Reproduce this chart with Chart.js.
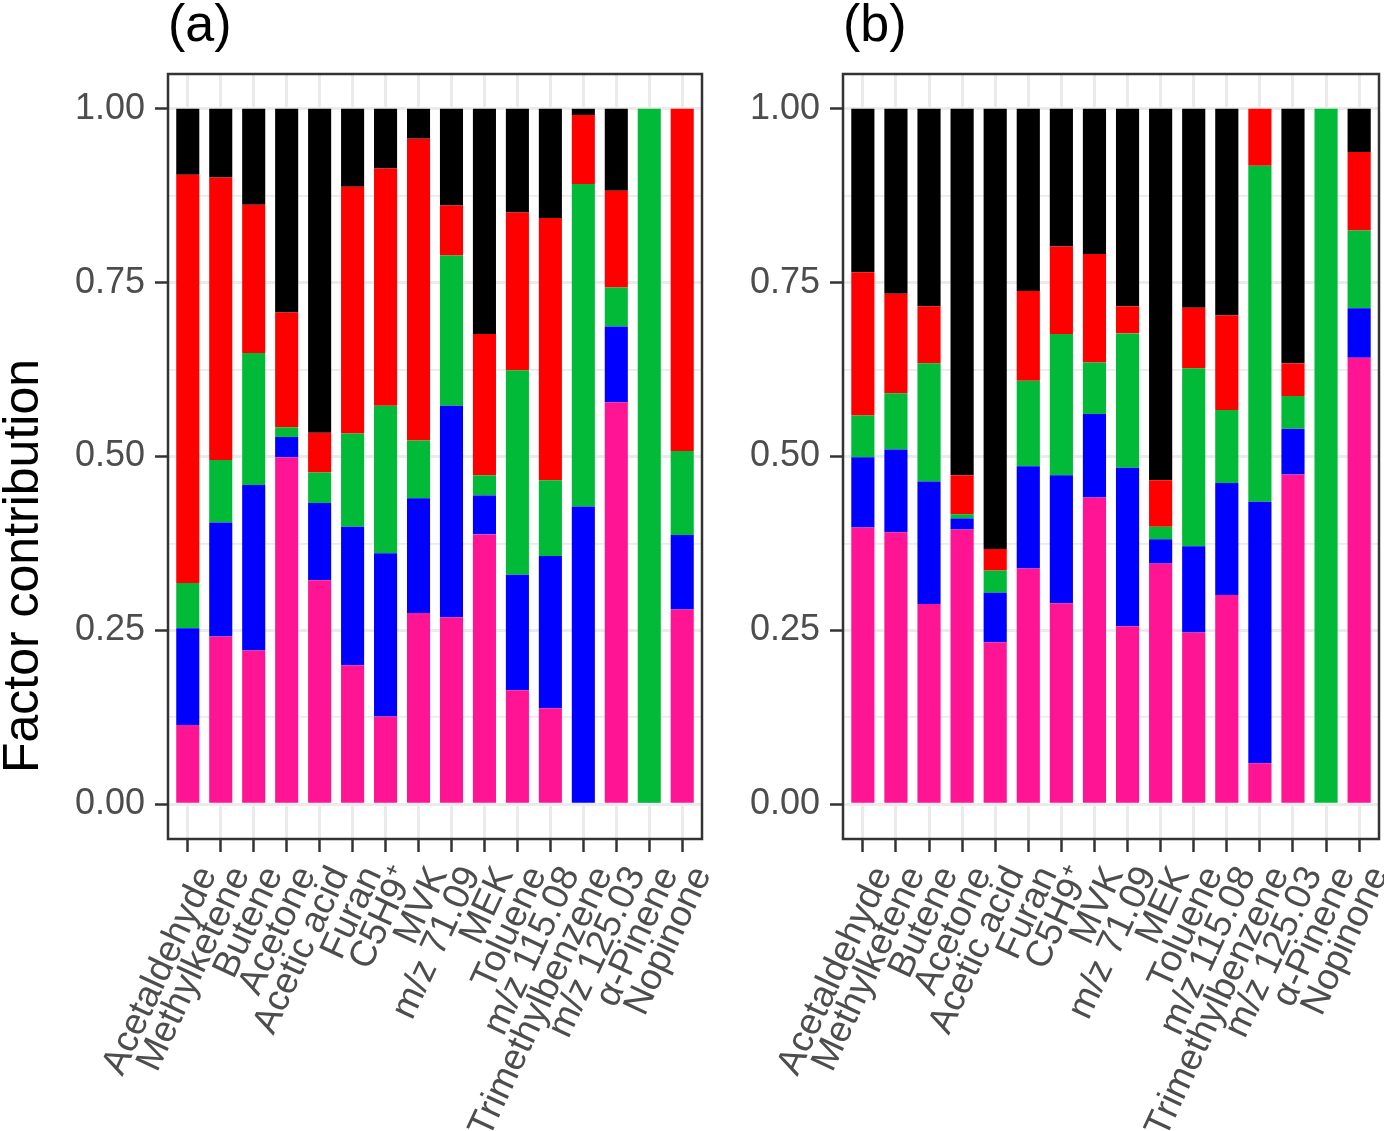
<!DOCTYPE html>
<html>
<head>
<meta charset="utf-8">
<script src="https://cdn.jsdelivr.net/npm/chart.js@4.4.0/dist/chart.umd.min.js"></script>
<style>
  html, body { margin: 0; padding: 0; background: #fff; overflow: hidden; }
  #wrap { position: relative; width: 1384px; height: 1131px; }
  canvas { position: absolute; top: 0; }
</style>
</head>
<body>
<div id="wrap">
  <canvas id="chartA" width="725" height="1131" style="left:0"></canvas>
  <canvas id="chartB" width="659" height="1131" style="left:725px"></canvas>
</div>
<script>
const categories = ['Acetaldehyde', 'Methylketene', 'Butene', 'Acetone', 'Acetic acid', 'Furan',
  'C5H9\u207A', 'MVK', 'm/z 71.09', 'MEK', 'Toluene', 'm/z 115.08', 'Trimethylbenzene',
  'm/z 125.03', '\u03B1-Pinene', 'Nopinone'];
const yTickValues = [0, 0.125, 0.25, 0.375, 0.5, 0.625, 0.75, 0.875, 1];

// panel (a), factors from bottom to top
const aF1 = [0.114, 0.241, 0.221, 0.499, 0.322, 0.200, 0.126, 0.275, 0.269, 0.388, 0.164, 0.138, 0, 0.578, 0, 0.280];
const aF2 = [0.139, 0.164, 0.238, 0.029, 0.111, 0.199, 0.235, 0.165, 0.304, 0.056, 0.166, 0.219, 0.428, 0.109, 0.002, 0.107];
const aF3 = [0.065, 0.090, 0.190, 0.014, 0.044, 0.134, 0.212, 0.083, 0.216, 0.029, 0.294, 0.109, 0.464, 0.056, 0.998, 0.121];
const aF4 = [0.587, 0.406, 0.213, 0.165, 0.057, 0.355, 0.341, 0.434, 0.072, 0.203, 0.227, 0.377, 0.099, 0.139, 0, 0.492];
const aF5 = [0.095, 0.099, 0.138, 0.293, 0.466, 0.112, 0.086, 0.043, 0.139, 0.324, 0.149, 0.157, 0.009, 0.118, 0, 0];

// panel (b)
const bF1 = [0.398, 0.391, 0.288, 0.395, 0.233, 0.339, 0.289, 0.441, 0.256, 0.346, 0.247, 0.301, 0.059, 0.474, 0, 0.642];
const bF2 = [0.101, 0.119, 0.176, 0.016, 0.071, 0.147, 0.184, 0.120, 0.228, 0.035, 0.124, 0.161, 0.376, 0.066, 0, 0.071];
const bF3 = [0.060, 0.081, 0.170, 0.006, 0.032, 0.123, 0.203, 0.074, 0.193, 0.018, 0.256, 0.105, 0.483, 0.047, 1, 0.112];
const bF4 = [0.206, 0.143, 0.082, 0.056, 0.031, 0.129, 0.126, 0.156, 0.039, 0.067, 0.087, 0.136, 0.082, 0.047, 0, 0.113];
const bF5 = [0.235, 0.266, 0.284, 0.527, 0.633, 0.262, 0.198, 0.209, 0.284, 0.534, 0.286, 0.297, 0, 0.366, 0, 0.062];

const factorColors = ['#ff1493', '#0000ff', '#00ba38', '#ff0000', '#000000'];
const FONT = '"Liberation Sans", Arial, sans-serif';
const CANVAS_H = 1131;
const PLOT_TOP = 74;
const PLOT_BOTTOM = 839;

const isMajor = v => Math.abs(v * 4 - Math.round(v * 4)) < 1e-9;

function decorPlugin(title, yTitle) {
    return {
        id: 'decor',
        afterDraw(chart) {
            const { ctx, chartArea: ca } = chart;
            ctx.save();
            // ggplot style panel border
            ctx.strokeStyle = '#333333';
            ctx.lineWidth = 2.5;
            ctx.strokeRect(ca.left, ca.top, ca.right - ca.left, ca.bottom - ca.top);
            // panel tag
            ctx.fillStyle = '#000';
            ctx.font = '52px ' + FONT;
            ctx.textAlign = 'left';
            ctx.textBaseline = 'alphabetic';
            ctx.fillText(title, ca.left, 41);
            if (yTitle) {
                ctx.font = '50px ' + FONT;
                ctx.translate(38, 566);
                ctx.rotate(-Math.PI / 2);
                ctx.textAlign = 'center';
                ctx.fillText(yTitle, 0, 0);
            }
            ctx.restore();
        }
    };
}

function makeChart(canvasId, series, yAxisWidth, padRight, title, yTitle) {
    const datasets = series.map((vals, k) => ({
        label: 'Factor ' + (k + 1),
        data: vals.map((v, i) => ({ x: i, y: v })),
        backgroundColor: factorColors[k],
        borderWidth: 0,
        barPercentage: 0.7,
        categoryPercentage: 1
    }));

    return new Chart(document.getElementById(canvasId), {
        type: 'bar',
        data: { datasets: datasets },
        plugins: [decorPlugin(title, yTitle)],
        options: {
            responsive: false,
            animation: false,
            layout: { padding: { top: PLOT_TOP, right: padRight, bottom: 0, left: 0 } },
            plugins: {
                legend: { display: false },
                tooltip: { enabled: false }
            },
            scales: {
                x: {
                    type: 'linear',
                    stacked: true,
                    bounds: 'data',
                    min: -0.6,
                    max: categories.length - 0.4,
                    offset: false,
                    afterBuildTicks: s => { s.ticks = categories.map((c, i) => ({ value: i })); },
                    afterFit: s => {
                        s.height = CANVAS_H - PLOT_BOTTOM;
                        s.paddingLeft = 0;
                        s.paddingRight = 0;
                    },
                    grid: {
                        offset: false,
                        color: '#ebebeb',
                        lineWidth: 3,
                        tickLength: 13,
                        tickColor: '#333333',
                        tickWidth: 2.5
                    },
                    border: { display: false },
                    ticks: {
                        autoSkip: false,
                        minRotation: 65,
                        maxRotation: 65,
                        padding: 8,
                        labelOffset: 20,
                        color: '#4d4d4d',
                        font: { size: 37, family: FONT },
                        callback: (v, i) => categories[i]
                    }
                },
                y: {
                    stacked: true,
                    bounds: 'data',
                    min: -0.05,
                    max: 1.05,
                    afterBuildTicks: s => { s.ticks = yTickValues.map(v => ({ value: v })); },
                    afterFit: s => {
                        s.width = yAxisWidth;
                        s.paddingTop = 0;
                        s.paddingBottom = 0;
                    },
                    grid: {
                        color: '#ebebeb',
                        lineWidth: ctx => isMajor(ctx.tick.value) ? 3 : 1.8,
                        tickLength: 13,
                        tickColor: ctx => isMajor(ctx.tick.value) ? '#333333' : 'rgba(0,0,0,0)',
                        tickWidth: 2.5
                    },
                    border: { display: false },
                    ticks: {
                        padding: 10,
                        color: '#4d4d4d',
                        font: { size: 36, family: FONT },
                        callback: v => isMajor(v) ? v.toFixed(2) : ''
                    }
                }
            }
        }
    });
}

makeChart('chartA', [aF1, aF2, aF3, aF4, aF5], 168, 23, '(a)', 'Factor contribution');
makeChart('chartB', [bF1, bF2, bF3, bF4, bF5], 118, 5, '(b)', null);
</script>
</body>
</html>
